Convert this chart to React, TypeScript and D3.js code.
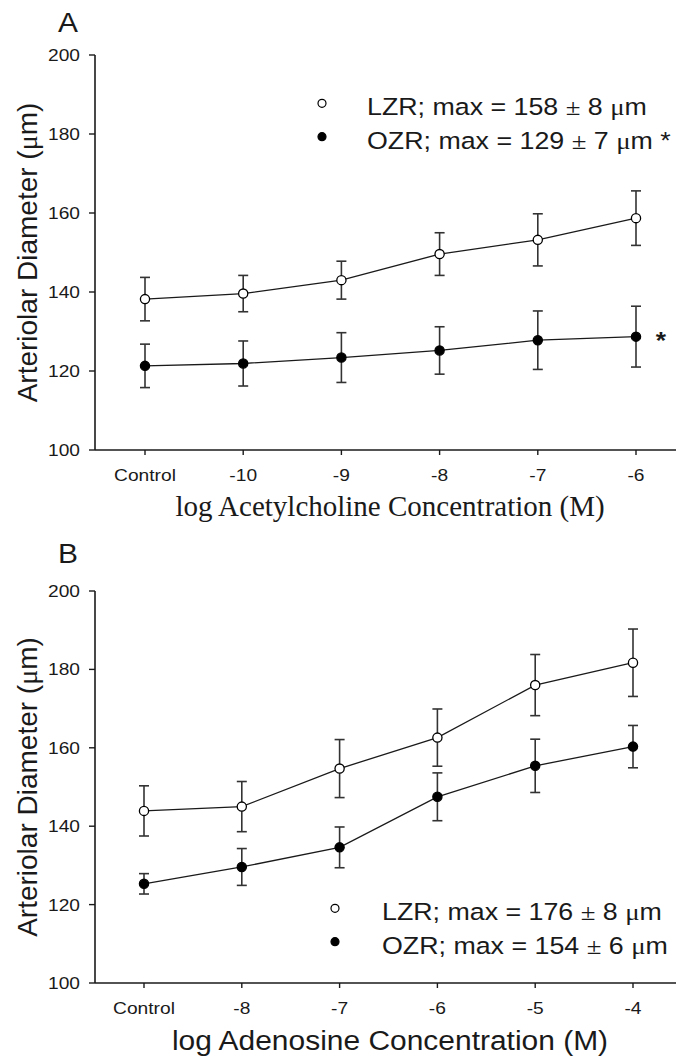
import React from "react";
import * as d3 from "d3";

// ---------- data ----------
const catsA = ["Control", "-10", "-9", "-8", "-7", "-6"];
const lzrA = [138.2, 139.6, 143.0, 149.6, 153.2, 158.7];
const lzrErrA = [5.5, 4.6, 4.8, 5.4, 6.6, 6.9];
const ozrA = [121.3, 121.9, 123.4, 125.2, 127.8, 128.7];
const ozrErrA = [5.5, 5.7, 6.3, 6.0, 7.4, 7.7];

const catsB = ["Control", "-8", "-7", "-6", "-5", "-4"];
const lzrB = [143.9, 145.0, 154.7, 162.6, 176.0, 181.7];
const lzrErrB = [6.4, 6.4, 7.4, 7.3, 7.8, 8.6];
const ozrB = [125.3, 129.6, 134.6, 147.5, 155.4, 160.3];
const ozrErrB = [2.6, 4.7, 5.2, 6.1, 6.8, 5.4];

const yDomain = [100, 200];
const legendA = [
  { pre: "LZR; max = 158 ", pm: "±", mid: " 8 ", mu: "μ", post: "m", filled: false },
  { pre: "OZR; max = 129 ", pm: "±", mid: " 7 ", mu: "μ", post: "m *", filled: true },
];
const legendB = [
  { pre: "LZR; max = 176 ", pm: "±", mid: " 8 ", mu: "μ", post: "m", filled: false },
  { pre: "OZR; max = 154 ", pm: "±", mid: " 6 ", mu: "μ", post: "m", filled: true },
];

const SANS = "'Liberation Sans', Arial, Helvetica, sans-serif";
const SERIF = "'Liberation Serif', 'Times New Roman', serif";
const INK = "#1a1a1a";

function SText({ x, y, sx = 1, size, anchor = "start", family = SANS, weight = "normal", children }: any) {
  return (
    <g transform={`translate(${x},${y}) scale(${sx},1)`}>
      <text x={0} y={0} fontSize={size} fontFamily={family} fontWeight={weight} textAnchor={anchor} fill={INK}>
        {children}
      </text>
    </g>
  );
}

function Panel(props: any) {
  const {
    cats, lzr, lzrErr, ozr, ozrErr, top, bottom, xRange, letter, letterY,
    xTitle, xTitleSerif, xTitleY, legend, legendX, legendY, legendTextX, star,
  } = props;
  const axisX = 95;
  const x = d3.scalePoint<string>().domain(cats).range(xRange).padding(0);
  const y = d3.scaleLinear().domain(yDomain).range([bottom, top]);
  const line = d3
    .line<number>()
    .x((_, i) => x(cats[i]) as number)
    .y((d) => y(d));
  const ticks = y.ticks(5);

  const series = [
    { vals: lzr, errs: lzrErr, filled: false },
    { vals: ozr, errs: ozrErr, filled: true },
  ];

  return (
    <g>
      <SText x={68} y={letterY} size={28} sx={1.07} anchor="middle">{letter}</SText>
      {/* y axis */}
      <line x1={axisX} x2={axisX} y1={y(200)} y2={y(100)} stroke={INK} strokeWidth={1.6} />
      {ticks.map((t) => (
        <g key={t}>
          <line x1={axisX - 6} x2={axisX} y1={y(t)} y2={y(t)} stroke={INK} strokeWidth={1.4} />
          <SText x={80} y={y(t) + 6} size={17} sx={1.13} anchor="end">{t}</SText>
        </g>
      ))}
      {/* x axis */}
      <line x1={axisX} x2={676} y1={bottom} y2={bottom} stroke={INK} strokeWidth={1.6} />
      {cats.map((c: string) => (
        <g key={c}>
          <line x1={x(c)} x2={x(c)} y1={bottom} y2={bottom + 5} stroke={INK} strokeWidth={1.4} />
          <SText x={x(c)} y={bottom + 31} size={17} sx={1.13} anchor="middle">{c}</SText>
        </g>
      ))}
      {/* y title */}
      <text
        transform={`translate(37,${(top + bottom) / 2}) rotate(-90)`}
        fontSize={28}
        fontFamily={SANS}
        textAnchor="middle"
        fill={INK}
      >
        Arteriolar Diameter (<tspan fontFamily={SERIF}>μ</tspan>m)
      </text>
      {/* x title */}
      {xTitleSerif ? (
        <SText x={390} y={xTitleY} size={29} family={SERIF} anchor="middle">{xTitle}</SText>
      ) : (
        <SText x={390} y={xTitleY} size={28} sx={1.07} anchor="middle">{xTitle}</SText>
      )}
      {/* series */}
      {series.map((s, si) => (
        <g key={si}>
          {s.vals.map((v: number, i: number) => {
            const cx = x(cats[i]) as number;
            return (
              <g key={i} stroke="#333" strokeWidth={1.6}>
                <line x1={cx} x2={cx} y1={y(v + s.errs[i])} y2={y(v - s.errs[i])} />
                <line x1={cx - 5} x2={cx + 5} y1={y(v + s.errs[i])} y2={y(v + s.errs[i])} />
                <line x1={cx - 5} x2={cx + 5} y1={y(v - s.errs[i])} y2={y(v - s.errs[i])} />
              </g>
            );
          })}
          <path d={line(s.vals) || ""} fill="none" stroke={INK} strokeWidth={1.3} />
          {s.vals.map((v: number, i: number) => (
            <circle
              key={i}
              cx={x(cats[i]) as number}
              cy={y(v)}
              r={4.6}
              fill={s.filled ? "#000" : "#fff"}
              stroke="#000"
              strokeWidth={1.3}
            />
          ))}
        </g>
      ))}
      {star && (
        <SText x={star.x} y={star.y} size={24} sx={1.1} anchor="middle" weight="bold">*</SText>
      )}
      {/* legend */}
      {legend.map((l: any, i: number) => (
        <g key={i}>
          <circle
            cx={legendX}
            cy={legendY + i * 33.4}
            r={4}
            fill={l.filled ? "#000" : "#fff"}
            stroke="#000"
            strokeWidth={1.2}
          />
          <SText x={legendTextX} y={legendY + 12 + i * 33.4} size={23.5} sx={1.14}>
            {l.pre}
            <tspan fontFamily={SERIF}>{l.pm}</tspan>
            {l.mid}
            <tspan fontFamily={SERIF}>{l.mu}</tspan>
            {l.post}
          </SText>
        </g>
      ))}
    </g>
  );
}

export default function App() {
  return (
    <svg
      width={676}
      height={1057}
      style={{ position: "absolute", left: 0, top: 0, background: "#fff" }}
    >
      <rect x={0} y={0} width={676} height={1057} fill="#fff" />
      <Panel
        cats={catsA}
        lzr={lzrA}
        lzrErr={lzrErrA}
        ozr={ozrA}
        ozrErr={ozrErrA}
        top={55}
        bottom={450}
        xRange={[145, 636]}
        letter="A"
        letterY={32}
        xTitle="log Acetylcholine Concentration (M)"
        xTitleSerif={true}
        xTitleY={516}
        legend={legendA}
        legendX={322}
        legendY={103.3}
        legendTextX={367}
        star={{ x: 661, y: 349 }}
      />
      <Panel
        cats={catsB}
        lzr={lzrB}
        lzrErr={lzrErrB}
        ozr={ozrB}
        ozrErr={ozrErrB}
        top={591}
        bottom={983}
        xRange={[144, 633]}
        letter="B"
        letterY={563}
        xTitle="log Adenosine Concentration (M)"
        xTitleSerif={false}
        xTitleY={1050}
        legend={legendB}
        legendX={335}
        legendY={908.3}
        legendTextX={382}
      />
    </svg>
  );
}
